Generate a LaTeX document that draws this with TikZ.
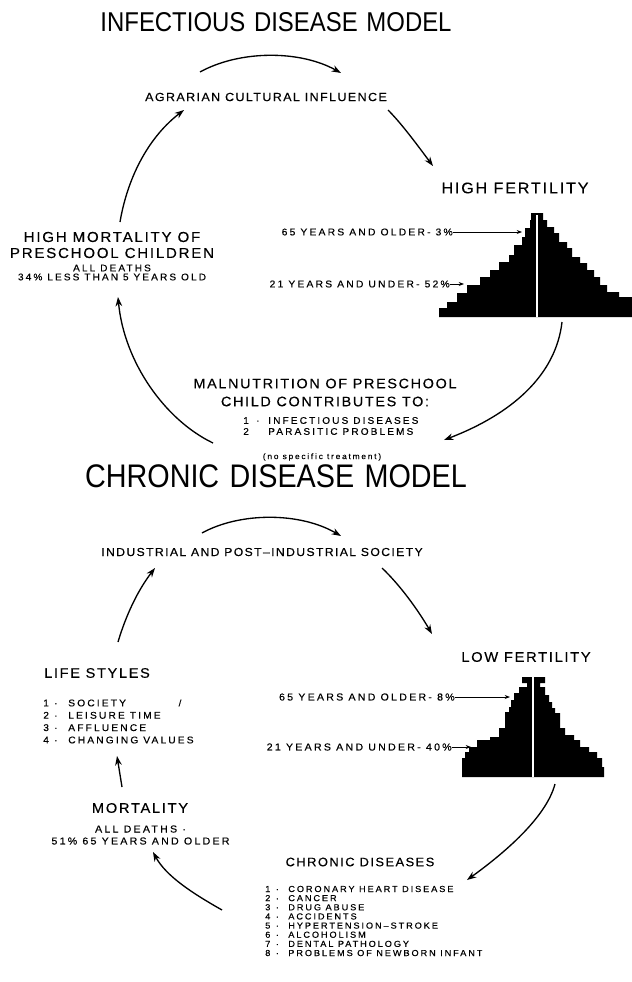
\documentclass[tikz,border=0pt]{standalone}
\usepackage{fontspec}
\setmainfont{Liberation Sans}
\newfontfamily\ttlfont[FakeStretch=0.88,WordSpace=1.3]{Liberation Sans}
\newfontfamily\labfont[FakeStretch=1.05,LetterSpace=12,FakeBold=0.3]{Liberation Sans}
\newfontfamily\subfont[FakeStretch=1.05,LetterSpace=22,FakeBold=0.3]{Liberation Sans}
\usetikzlibrary{arrows.meta}

\tikzset{
  ttl/.style={inner sep=0pt, font=\ttlfont\fontsize{#1}{#1}\selectfont},
  lab/.style 2 args={inner sep=0pt, align=center, font=\labfont\fontsize{#1}{#2}\selectfont},
  sub/.style 2 args={inner sep=0pt, align=center, font=\subfont\fontsize{#1}{#2}\selectfont},
  lst/.style 2 args={inner sep=0pt, anchor=west, align=left, font=\subfont\fontsize{#1}{#2}\selectfont},
  arr/.style={-{Stealth[length=7pt,width=5pt]}, line width=1pt},
  sarr/.style={-{Stealth[length=4pt,width=3pt]}, line width=0.6pt},
}

\begin{document}
\begin{tikzpicture}[x=0.75pt,y=0.75pt,yscale=-1,xscale=1]
\path[use as bounding box, fill=white] (0,0) rectangle (632,982);

%%%%% infectious disease model
% Text Node
\node[ttl=20.4] (ttlinf) at (276,22) {INFECTIOUS DISEASE MODEL};
% Text Node
\node[lab={8.9}{10}] (agr) at (266,97) {AGRARIAN CULTURAL INFLUENCE};
% Text Node
\node[lab={11.5}{13}] (hfert) at (515,188) {HIGH FERTILITY};
% Text Node
\node[sub={7.4}{8}, anchor=east] (old1) at (453,232) {65 YEARS AND OLDER- 3\%};
% Text Node
\node[sub={7.4}{8}, anchor=east] (yng1) at (450,284) {21 YEARS AND UNDER- 52\%};
% Text Node
\node[lab={10.8}{12}] (hmort) at (112,245) {HIGH MORTALITY OF\\PRESCHOOL CHILDREN};
% Text Node
\node[sub={7.2}{6.75}] (hmsub) at (112,272.5) {ALL DEATHS\\34\% LESS THAN 5 YEARS OLD};
% Text Node
\node[lab={10.3}{13.5}] (maln) at (325,392.5) {MALNUTRITION OF PRESCHOOL\\CHILD CONTRIBUTES TO:};
% Text Node
\node[lst={7.2}{8.25}] (mlist) at (243,426) {\makebox[9.75pt][l]{1}\makebox[9pt][l]{·}INFECTIOUS DISEASES\\
  \makebox[9.75pt][l]{2}\makebox[9pt][l]{}PARASITIC PROBLEMS};
% Text Node
\node[sub={6}{7}] (notx) at (322,457) {(no specific treatment)};

% Shape: pyramid, high fertility
\begin{scope}[shift={(537,0)}]
\fill (-6,213) -- (6,213) -- (6,220) -- (10,220) -- (10,227) -- (17,227) -- (17,233) -- (22,233) -- (22,242) -- (30,242) -- (30,248) -- (35,248) -- (35,257) -- (43,257) -- (43,263) -- (50,263) -- (50,270) -- (57,270) -- (57,277) -- (63,277) -- (63,285) -- (70,285) -- (70,292) -- (82,292) -- (82,297) -- (95,297) -- (95,317)
  -- (-98,317) -- (-98,308) -- (-90,308) -- (-90,302) -- (-80,302) -- (-80,293) -- (-70,293) -- (-70,285) -- (-57,285) -- (-57,277) -- (-47,277) -- (-47,270) -- (-38,270) -- (-38,262) -- (-28,262) -- (-28,255) -- (-23,255) -- (-23,245) -- (-15,245) -- (-15,237) -- (-12,237) -- (-12,228) -- (-7,228) -- (-7,220) -- (-6,220) -- cycle;
\draw[white, line width=1.8pt] (0,215) -- (0,317);
\end{scope}

% Connectors
\coordinate (a1s) at (200,72);
\coordinate (a1e) at (341,73);
\coordinate (b1s) at (388,110);
\coordinate (b1e) at (433,166);
\coordinate (c1s) at (562,322);
\coordinate (c1e) at (444,440);
\coordinate (d1s) at (213,443);
\coordinate (d1e) at (118,297);
\coordinate (e1s) at (120,222);
\coordinate (e1e) at (184,110);
\draw[arr] (a1s) .. controls (240,50) and (300,50) .. (a1e);
\draw[arr] (b1s) .. controls (402,124) and (418,146) .. (b1e);
\draw[arr] (c1s) .. controls (556,375) and (512,414) .. (c1e);
\draw[arr] (d1s) .. controls (165,420) and (124,362) .. (d1e);
\draw[arr] (e1s) .. controls (128,175) and (150,136) .. (e1e);
\draw[sarr] (old1.east) -- (522,232);
\draw[sarr] (yng1.east) -- (464,284);

%%%%% chronic disease model
% Text Node
\node[ttl=24.5] (ttlchr) at (276,476) {CHRONIC DISEASE MODEL};
% Text Node
\node[lab={8.7}{10}] (ind) at (262,552) {INDUSTRIAL AND POST–INDUSTRIAL SOCIETY};
% Text Node
\node[lab={10.5}{12}] (lfert) at (526,657) {LOW FERTILITY};
% Text Node
\node[sub={7.6}{8}, anchor=east] (old2) at (455,697) {65 YEARS AND OLDER- 8\%};
% Text Node
\node[sub={7.6}{8}, anchor=east] (yng2) at (452,747) {21 YEARS AND UNDER- 40\%};
% Text Node
\node[lab={10.4}{12}] (life) at (97,673) {LIFE STYLES};
% Text Node
\node[lst={7.3}{9.25}] (llist) at (43,721.5) {\makebox[8.25pt][l]{1}\makebox[10.5pt][l]{·}SOCIETY\\
  \makebox[8.25pt][l]{2}\makebox[10.5pt][l]{·}LEISURE TIME\\
  \makebox[8.25pt][l]{3}\makebox[10.5pt][l]{·}AFFLUENCE\\
  \makebox[8.25pt][l]{4}\makebox[10.5pt][l]{·}CHANGING VALUES};
% Text Node
\node[sub={7}{8}] (slash) at (180,703) {/};
% Text Node
\node[lab={10.5}{12}] (mort) at (140,808) {MORTALITY};
% Text Node
\node[sub={7.6}{9}] (msub) at (140.5,835) {ALL DEATHS ·\\51\% 65 YEARS AND OLDER};
% Text Node
\node[lab={9.2}{12}] (chr) at (360,862) {CHRONIC DISEASES};
% Text Node
\node[lst={6.55}{6.86}] (clist) at (265,921) {\makebox[7.9pt][l]{1}\makebox[9.4pt][l]{·}CORONARY HEART DISEASE\\
  \makebox[7.9pt][l]{2}\makebox[9.4pt][l]{·}CANCER\\
  \makebox[7.9pt][l]{3}\makebox[9.4pt][l]{·}DRUG ABUSE\\
  \makebox[7.9pt][l]{4}\makebox[9.4pt][l]{·}ACCIDENTS\\
  \makebox[7.9pt][l]{5}\makebox[9.4pt][l]{·}HYPERTENSION–STROKE\\
  \makebox[7.9pt][l]{6}\makebox[9.4pt][l]{·}ALCOHOLISM\\
  \makebox[7.9pt][l]{7}\makebox[9.4pt][l]{·}DENTAL PATHOLOGY\\
  \makebox[7.9pt][l]{8}\makebox[9.4pt][l]{·}PROBLEMS OF NEWBORN INFANT};

% Shape: pyramid, low fertility
\begin{scope}[shift={(533,0)}]
\fill (-11,677) -- (12,677) -- (12,683) -- (7,683) -- (7,687) -- (12,687) -- (12,695) -- (16,695) -- (16,702) -- (19,702) -- (19,708) -- (22,708) -- (22,713) -- (27,713) -- (27,728) -- (32,728) -- (32,735) -- (41,735) -- (41,740) -- (47,740) -- (47,747) -- (56,747) -- (56,752) -- (64,752) -- (64,758) -- (69,758) -- (69,767) -- (71,767) -- (71,777)
  -- (-71,777) -- (-71,758) -- (-68,758) -- (-68,752) -- (-64,752) -- (-64,747) -- (-56,747) -- (-56,740) -- (-43,740) -- (-43,737) -- (-34,737) -- (-34,728) -- (-28,728) -- (-28,712) -- (-24,712) -- (-24,707) -- (-22,707) -- (-22,700) -- (-19,700) -- (-19,693) -- (-14,693) -- (-14,687) -- (-6,687) -- (-6,683) -- (-11,683) -- cycle;
\draw[white, line width=1.8pt] (0,677) -- (0,777);
\end{scope}

% Connectors
\coordinate (a2s) at (202,533);
\coordinate (a2e) at (341,536);
\coordinate (b2s) at (382,568);
\coordinate (b2e) at (432,634);
\coordinate (c2s) at (555,784);
\coordinate (c2e) at (467,880);
\coordinate (d2s) at (222,910);
\coordinate (d2e) at (153,852);
\coordinate (e2s) at (122,787);
\coordinate (e2e) at (117,756);
\coordinate (f2s) at (118,642);
\coordinate (f2e) at (155,568);
\draw[arr] (a2s) .. controls (240,512) and (300,512) .. (a2e);
\draw[arr] (b2s) .. controls (400,585) and (418,610) .. (b2e);
\draw[arr] (c2s) .. controls (546,818) and (503,854) .. (c2e);
\draw[arr] (d2s) .. controls (192,893) and (166,876) .. (d2e);
\draw[arr] (e2s) -- (e2e);
\draw[arr] (f2s) .. controls (126,615) and (138,590) .. (f2e);
\draw[sarr] (old2.east) -- (510,697);
\draw[sarr] (yng2.east) -- (471,747);
\end{tikzpicture}
\end{document}
